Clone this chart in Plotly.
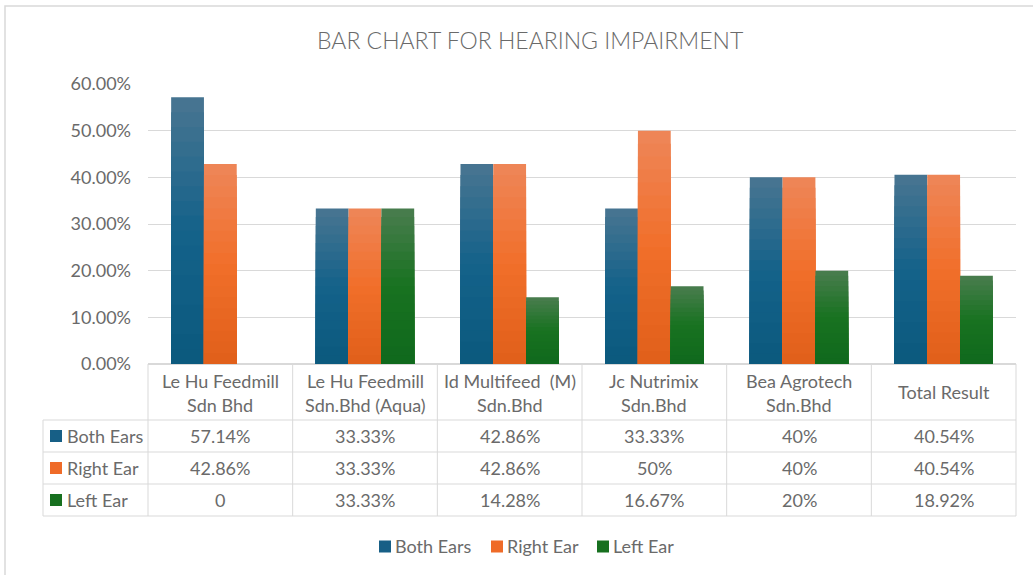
import plotly.graph_objects as go

# ---------------- data ----------------
categories = ["Le Hu Feedmill Sdn Bhd", "Le Hu Feedmill Sdn.Bhd (Aqua)", "Id Multifeed (M) Sdn.Bhd",
              "Jc Nutrimix Sdn.Bhd", "Bea Agrotech Sdn.Bhd", "Total Result"]
category_lines = [["Le Hu Feedmill", "Sdn Bhd"], ["Le Hu Feedmill", "Sdn.Bhd (Aqua)"],
                  ["Id Multifeed  (M)", "Sdn.Bhd"], ["Jc Nutrimix", "Sdn.Bhd"],
                  ["Bea Agrotech", "Sdn.Bhd"], ["Total Result"]]
series_names = ["Both Ears", "Right Ear", "Left Ear"]
both_ears = [0.5714, 0.3333, 0.4286, 0.3333, 0.40, 0.4054]
right_ear = [0.4286, 0.3333, 0.4286, 0.50, 0.40, 0.4054]
left_ear = [0.0, 0.3333, 0.1428, 0.1667, 0.20, 0.1892]
both_ears_text = ["57.14%", "33.33%", "42.86%", "33.33%", "40%", "40.54%"]
right_ear_text = ["42.86%", "33.33%", "42.86%", "50%", "40%", "40.54%"]
left_ear_text = ["0", "33.33%", "14.28%", "16.67%", "20%", "18.92%"]
y_ticks = [0, 0.1, 0.2, 0.3, 0.4, 0.5, 0.6]

# ---------------- style ----------------
W_FIG, H_FIG = 1033, 575
L, R, T, B = 148, 1016, 84, 364
FONT = "Lato"
TXT = "#6a6a6a"
GRID = "#d9d9d9"
gradients = {  # top, middle, bottom
    "Both Ears": [(73, 117, 145), (20, 98, 138), (11, 89, 125)],
    "Right Ear": [(238, 134, 89), (241, 111, 42), (224, 95, 26)],
    "Left Ear": [(74, 125, 79), (24, 114, 32), (16, 105, 29)],
}
swatch = {"Both Ears": "#175f86", "Right Ear": "#ef6b28", "Left Ear": "#17701f"}
values = {"Both Ears": both_ears, "Right Ear": right_ear, "Left Ear": left_ear}
texts = {"Both Ears": both_ears_text, "Right Ear": right_ear_text, "Left Ear": left_ear_text}


def px(p):
    return (p - L) / (R - L)


def py(p):
    return (B - p) / (B - T)


def grad(stops, t):
    if t <= 0.5:
        a, b, u = stops[0], stops[1], t / 0.5
    else:
        a, b, u = stops[1], stops[2], (t - 0.5) / 0.5
    c = [round(a[i] + (b[i] - a[i]) * u) for i in range(3)]
    return f"rgb({c[0]},{c[1]},{c[2]})"


fig = go.Figure()
N = 18  # gradient bands drawn as overlapping bars
for name in series_names:
    vals = values[name]
    for k in range(N):
        frac = 1 - k / N
        fig.add_trace(go.Bar(
            x=categories, y=[v * frac for v in vals], name=name,
            offsetgroup=name, showlegend=False, hoverinfo="skip",
            marker=dict(color=grad(gradients[name], (k + 0.5) / N), line=dict(width=0)),
        ))

shapes = []
annotations = []
line = dict(color=GRID, width=1)
# outer chart border
shapes.append(dict(type="rect", xref="paper", yref="paper", x0=px(5), x1=px(1045), y0=py(6), y1=py(590),
                   line=dict(color=GRID, width=1.5), layer="below"))
# data table vertical lines
n = len(categories)
for i in range(n + 1):
    shapes.append(dict(type="line", xref="paper", yref="paper", x0=i / n, x1=i / n, y0=py(364), y1=py(516), line=line))
for yp in [420, 452, 484, 516]:
    shapes.append(dict(type="line", xref="paper", yref="paper", x0=px(43), x1=1, y0=py(yp), y1=py(yp), line=line))
shapes.append(dict(type="line", xref="paper", yref="paper", x0=px(43), x1=px(43), y0=py(420), y1=py(516), line=line))

# header texts
for i, lines in enumerate(category_lines):
    cx = (i + 0.5) / n
    if len(lines) == 2:
        ys = [381, 405]
    else:
        ys = [392]
    for t, yy in zip(lines, ys):
        annotations.append(dict(x=cx, y=py(yy), xref="paper", yref="paper", text=t, showarrow=False,
                                xanchor="center", yanchor="middle", font=dict(family=FONT, size=18, color=TXT)))

# rows
row_centers = [436, 468, 500]
for name, yc in zip(series_names, row_centers):
    shapes.append(dict(type="rect", xref="paper", yref="paper", x0=px(50), x1=px(62), y0=py(yc - 6), y1=py(yc + 6),
                       fillcolor=swatch[name], line=dict(width=0)))
    annotations.append(dict(x=px(65), y=py(yc), xref="paper", yref="paper", text=name, showarrow=False,
                            xanchor="left", yanchor="middle", font=dict(family=FONT, size=18, color=TXT)))
    for i, t in enumerate(texts[name]):
        annotations.append(dict(x=(i + 0.5) / n, y=py(yc), xref="paper", yref="paper", text=t, showarrow=False,
                                xanchor="center", yanchor="middle", font=dict(family=FONT, size=18, color=TXT)))

# bottom legend
leg_x = [379, 491, 597]
for name, sx in zip(series_names, leg_x):
    shapes.append(dict(type="rect", xref="paper", yref="paper", x0=px(sx), x1=px(sx + 12), y0=py(540.5), y1=py(552.5),
                       fillcolor=swatch[name], line=dict(width=0)))
    annotations.append(dict(x=px(sx + 14), y=py(546), xref="paper", yref="paper", text=name, showarrow=False,
                            xanchor="left", yanchor="middle", font=dict(family=FONT, size=18, color=TXT)))

# title
annotations.append(dict(x=px(530), y=py(40), xref="paper", yref="paper", text="BAR CHART FOR HEARING IMPAIRMENT",
                        showarrow=False, xanchor="center", yanchor="middle",
                        font=dict(family=FONT, size=23, color=TXT, weight=300)))

fig.update_layout(
    width=W_FIG, height=H_FIG,
    margin=dict(l=L, r=W_FIG - R, t=T, b=H_FIG - B, pad=0),
    paper_bgcolor="white", plot_bgcolor="white",
    barmode="group", bargap=0.32, bargroupgap=0,
    showlegend=False,
    shapes=shapes, annotations=annotations,
    font=dict(family=FONT, color=TXT),
    xaxis=dict(showticklabels=False, showgrid=False, zeroline=False, showline=False, ticks="",
               fixedrange=True),
    yaxis=dict(range=[0, 0.6], tickvals=y_ticks, tickformat=".2%", showgrid=True, gridcolor=GRID, gridwidth=1,
               zeroline=True, zerolinecolor=GRID, zerolinewidth=1.5, ticks="", ticklabelstandoff=16,
               tickfont=dict(family=FONT, size=18, color=TXT), fixedrange=True),
)

fig.write_html("out.html", config={"displayModeBar": False},
               post_script="document.body.style.margin='0';document.body.style.padding='0';")
